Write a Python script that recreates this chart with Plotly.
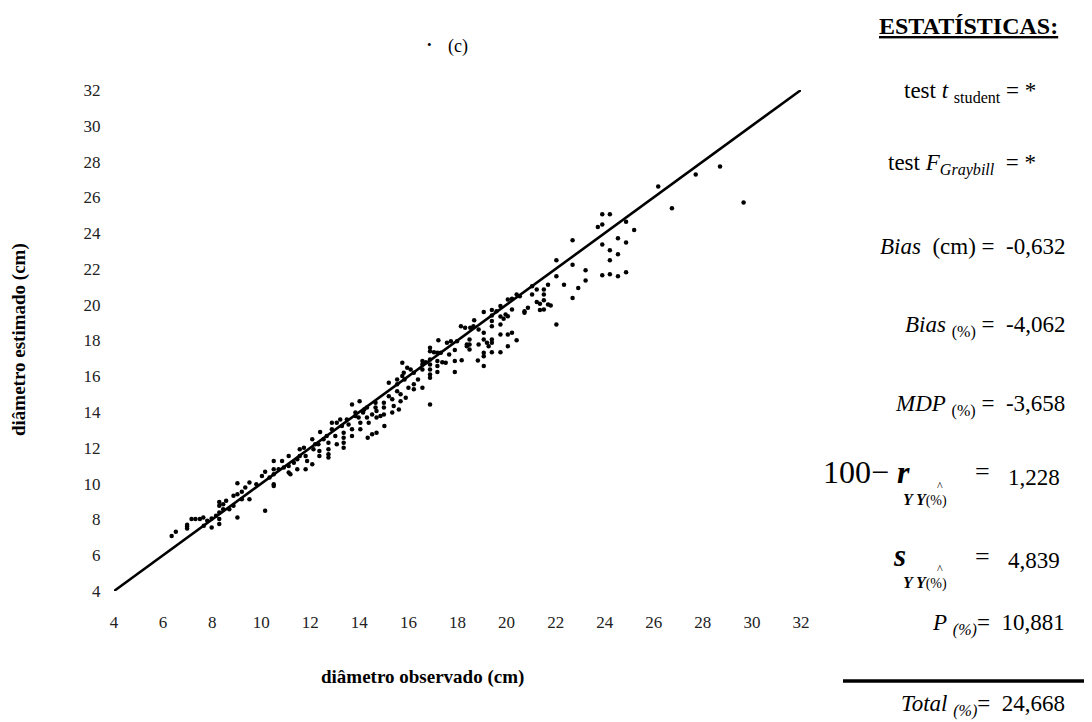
import plotly.graph_objects as go

# ---------------- data ----------------
obs = [
    6.35, 6.52, 6.98, 6.98, 6.98, 7.16, 7.32, 7.50, 7.64, 7.66, 7.80, 7.98, 7.98, 8.16, 8.29, 8.29,
    8.29, 8.29, 8.29, 8.45, 8.45, 8.57, 8.70, 8.87, 8.87, 9.03, 9.03, 9.03, 9.21, 9.21, 9.35, 9.52,
    9.52, 9.80, 10.03, 10.16, 10.16, 10.34, 10.51, 10.51, 10.51, 10.51, 10.51, 10.71, 10.85, 10.92,
    11.12, 11.12, 11.12, 11.19,
    11.33, 11.47, 11.47, 11.57, 11.57, 11.74, 11.81, 11.87, 11.81, 12.08, 12.08, 12.13, 12.20, 12.33,
    12.37, 12.37, 12.40, 12.54, 12.67, 12.74, 12.74, 12.74, 12.74, 12.88, 12.88, 13.02, 13.08, 13.08,
    13.22, 13.29, 13.36, 13.36, 13.36, 13.36, 13.49, 13.56, 13.70, 13.70, 13.70, 13.84, 13.84, 13.97,
    14.01, 14.04, 14.04, 14.15, 14.20, 14.31, 14.31, 14.38, 14.34, 14.52, 14.70, 14.52, 14.66, 14.66,
    14.70, 14.70, 14.86, 15.00, 15.00, 15.00, 15.02, 15.20, 15.20, 15.34, 15.34, 15.40, 15.54, 15.54,
    15.54, 15.61, 15.68, 15.68, 15.75, 15.81, 15.84, 15.89, 15.95, 16.09, 16.22, 16.22, 16.22,
    15.75, 16.00, 16.39,
    16.57, 16.57, 16.57, 16.57, 16.71, 16.88, 16.88, 16.88, 16.88, 16.88, 16.88, 16.88, 16.88, 17.04,
    17.18, 17.32, 17.18, 17.18, 17.18, 17.22, 17.38, 17.52, 17.57, 17.73, 17.66, 17.89, 17.89, 17.89,
    17.98, 18.14, 18.17, 18.31, 18.38, 18.38, 18.49, 18.49, 18.49, 18.52, 18.65, 18.68, 18.83, 18.86,
    18.86, 19.07, 19.07, 19.07, 19.07, 19.07, 19.07, 19.20, 19.27, 19.40, 19.40, 19.40, 19.40, 19.40,
    19.40, 19.40, 19.59, 19.75, 19.75, 19.75, 19.75, 19.75, 19.88, 19.96, 20.05, 20.05, 20.05, 20.05,
    20.22, 20.22, 20.22, 20.41, 20.41, 20.54, 20.73, 20.73, 20.87, 21.04, 21.04, 21.23, 21.23, 21.36,
    21.36, 21.52, 21.52, 21.52, 21.52, 21.69, 21.80, 21.69, 22.03, 22.03, 22.03, 22.34, 22.69, 22.69,
    22.69, 22.92, 23.22, 23.22,
    23.72, 23.90, 23.90, 24.21, 23.90, 23.90, 24.21, 24.21, 24.21, 24.54, 24.54, 24.54, 24.87, 24.87,
    24.87, 25.20, 26.18, 26.74, 27.71, 28.70, 29.66,
]
est = [
    7.08, 7.31, 7.50, 7.60, 7.70, 8.02, 8.02, 8.02, 8.11, 7.64, 7.92, 8.05, 7.55, 8.20, 8.98, 8.76,
    8.39, 8.02, 7.74, 8.85, 8.57, 9.04, 8.57, 9.32, 8.76, 10.02, 9.41, 8.11, 9.54, 9.13, 9.78, 10.06,
    9.13, 9.97, 10.43, 10.66, 8.48, 10.34, 11.27, 10.80, 10.53, 9.97, 9.87, 10.80, 11.27, 10.90,
    11.55, 10.99, 10.62, 10.53,
    11.17, 11.36, 10.80, 11.92, 11.55, 12.01, 11.55, 11.27, 10.80, 12.48, 11.08, 11.92, 12.20, 12.20,
    11.83, 11.55, 12.89, 12.48, 12.66, 12.29, 11.92, 11.64, 11.46, 13.41, 13.04, 12.66, 12.20, 13.41,
    13.59, 13.22, 12.85, 12.57, 12.29, 12.01, 13.59, 13.31, 14.43, 13.04, 12.66, 13.97, 13.78, 13.69,
    14.61, 13.41, 13.04, 13.97, 14.15, 14.25, 13.69, 13.41, 12.57, 12.76, 12.85, 13.87, 14.52, 14.25,
    14.06, 13.69, 13.78, 14.52, 14.25, 13.87, 13.22, 15.64, 14.89, 14.71, 13.97, 14.34, 15.82, 15.55,
    15.17, 14.15, 14.99, 14.61, 16.76, 16.20, 15.82, 14.80, 16.48, 16.38, 16.20, 15.55, 15.27,
    16.01, 15.36, 15.82,
    16.85, 16.66, 16.38, 15.36, 16.79, 17.59, 17.40, 16.94, 16.66, 16.38, 16.10, 15.92, 14.43, 17.35,
    17.31, 17.31, 16.85, 16.57, 16.24, 18.02, 16.79, 16.75, 17.87, 17.96, 17.22, 17.47, 16.85, 16.24,
    17.96, 18.80, 16.90, 18.71, 17.78, 17.68, 18.05, 17.78, 17.50, 18.71, 18.80, 19.13, 16.88, 18.61,
    17.78, 19.59, 18.43, 18.05, 17.31, 17.12, 16.57, 17.87, 17.68, 19.70, 19.40, 19.09, 18.80, 18.05,
    17.87, 17.35, 19.64, 19.93, 19.34, 18.89, 18.33, 17.35, 19.22, 19.45, 20.29, 19.35, 18.33, 17.68,
    19.73, 18.43, 20.33, 20.57, 18.02, 20.47, 19.64, 19.55, 19.83, 21.03, 20.57, 20.85, 20.15, 19.70,
    20.06, 20.85, 20.57, 20.25, 19.73, 20.01, 19.95, 21.12, 22.48, 21.59, 18.89, 21.12, 23.60, 22.24,
    20.38, 20.94, 21.93, 21.36,
    24.34, 24.49, 25.05, 25.05, 23.37, 21.65, 23.04, 22.48, 21.70, 23.71, 22.82, 21.59, 24.64, 23.48,
    21.81, 24.17, 26.61, 25.39, 27.28, 27.72, 25.71,
]

line_x = [4, 32]
line_y = [4, 32]

tick_vals = list(range(4, 33, 2))
tick_text = [str(v) for v in tick_vals]

x_title = "diâmetro observado (cm)"
y_title = "diâmetro estimado (cm)"
panel_label = "(c)"
stats_title = "ESTATÍSTICAS:"

stat_rows = [
    ("test <i>t</i> <sub>student</sub> = ", "*"),
    ("test <i>F</i><sub><i>Graybill</i></sub>  = ", "*"),
    ("<i>Bias</i>  (cm) =  ", "-0,632"),
    ("<i>Bias</i> <sub>(%)</sub> =  ", "-4,062"),
    ("<i>MDP</i> <sub>(%)</sub> =  ", "-3,658"),
]
r_value = "1,228"
s_value = "4,839"
p_label = "<i>P</i> <sub><i>(%)</i></sub>=  "
p_value = "10,881"
total_label = "<i>Total</i> <sub><i>(%)</i></sub>=  "
total_value = "24,668"

# ---------------- layout geometry ----------------
# the page body adds an 8px offset, so work in window pixels and subtract it
OFF = 8
W, H = 1092 - OFF, 722 - OFF
PLOT_L, PLOT_R, PLOT_T, PLOT_B = 114, 801, 90, 591          # window pixels
L, T = PLOT_L - OFF, PLOT_T - OFF
R_, B = W - (PLOT_R - OFF), H - (PLOT_B - OFF)
PW, PH = PLOT_R - PLOT_L, PLOT_B - PLOT_T

def px(x):
    return (x - PLOT_L) / PW

def py(y):
    return (PLOT_B - y) / PH

SERIF = "Liberation Serif, Times New Roman, serif"

fig = go.Figure()
fig.add_trace(go.Scatter(
    x=obs, y=est, mode="markers",
    marker=dict(color="black", size=4.5, symbol="circle"),
    showlegend=False, hoverinfo="x+y",
))
fig.add_trace(go.Scatter(
    x=line_x, y=line_y, mode="lines",
    line=dict(color="black", width=2.6),
    showlegend=False, hoverinfo="skip",
))

axis_common = dict(
    range=[4, 32], tickmode="array", tickvals=tick_vals, ticktext=tick_text,
    showgrid=False, zeroline=False, showline=False,
    ticks="outside", tickcolor="rgba(0,0,0,0)",
    tickfont=dict(family=SERIF, size=17, color="#222222"),
    fixedrange=True,
)
fig.update_xaxes(**axis_common, ticklen=16)
fig.update_yaxes(**axis_common, ticklen=9)

ann = []

def add(text, x, y, size, xanchor="center", yanchor="middle", color="black", angle=0):
    ann.append(dict(text=text, x=px(x), y=py(y), xref="paper", yref="paper",
                    xanchor=xanchor, yanchor=yanchor, showarrow=False, textangle=angle,
                    font=dict(family=SERIF, size=size, color=color)))

# axis titles
add("<b>" + x_title + "</b>", 422, 677, 19)
add("<b>" + y_title + "</b>", 19, 340, 19, angle=-90)
# panel label
add("•", 429, 44, 13)
add(panel_label, 458, 47, 18)

# statistics panel
add("<b><u>" + stats_title + "</u></b>", 968, 26, 24)
row_y = [92, 164, 247, 326, 405]
row_end = [1038, 1038, 1067, 1067, 1067]
for (lab, val), yy, xe in zip(stat_rows, row_y, row_end):
    add(lab + val, xe, yy, 23, xanchor="right")

# 100 - r row
add("100− <b><i>r</i></b>", 912, 472, 32, xanchor="right")
add("^", 940, 486, 12)
add("<b><i>Y Y</i></b><span style='font-size:14px'>(%)</span>", 925, 500, 16)
add("=", 982, 472, 26)
add(r_value, 1062, 477, 23, xanchor="right")

# s row
add("<b><i>s</i></b>", 899, 555, 31)
add("^", 940, 569, 12)
add("<b><i>Y Y</i></b><span style='font-size:14px'>(%)</span>", 925, 583, 16)
add("=", 982, 556, 26)
add(s_value, 1062, 560, 23, xanchor="right")

add(p_label + p_value, 1067, 624, 23, xanchor="right")
add(total_label + total_value, 1067, 705, 23, xanchor="right")

shapes = [
    dict(type="line", xref="paper", yref="paper", x0=px(843), x1=px(1092), y0=py(681), y1=py(681),
         line=dict(color="black", width=3.5)),
]
# small marks at the right edge (fragments of a neighbouring figure)
for yy, w, h in [(266, 4, 2), (308, 2, 5), (348, 2, 5), (383, 2, 5), (423, 2, 5)]:
    shapes.append(dict(type="rect", xref="paper", yref="paper",
                       x0=px(1087), x1=px(1087 + w), y0=py(yy + h / 2), y1=py(yy - h / 2),
                       fillcolor="black", line=dict(width=0)))

fig.update_layout(
    width=W, height=H,
    margin=dict(l=L, r=R_, t=T, b=B, pad=0),
    paper_bgcolor="white", plot_bgcolor="white",
    annotations=ann, shapes=shapes,
    font=dict(family=SERIF, color="black"),
    showlegend=False,
)

fig.write_html("out.html")
